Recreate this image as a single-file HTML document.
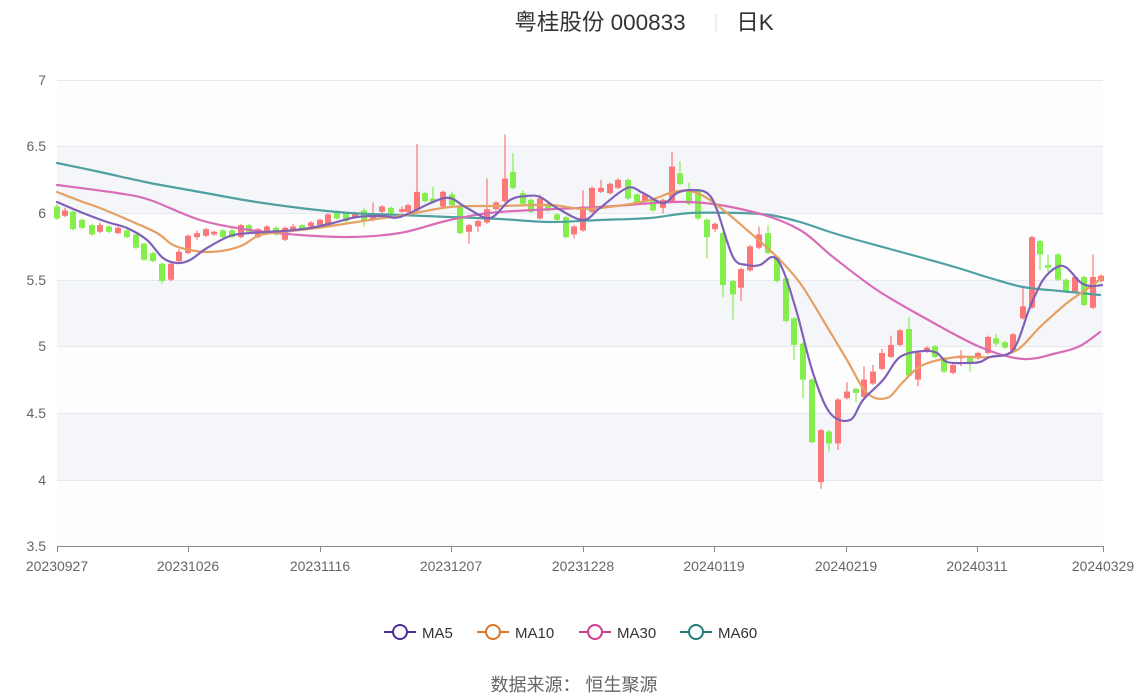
<!DOCTYPE html>
<html><head><meta charset="utf-8">
<style>
html,body{margin:0;padding:0;background:#fff;width:1148px;height:699px;overflow:hidden}
svg{display:block;font-family:"Liberation Sans","Noto Sans CJK SC",sans-serif}
</style></head>
<body>
<svg id="s" width="1148" height="699" xmlns="http://www.w3.org/2000/svg">
<rect x="57" y="80" width="1046" height="66.5" fill="#fdfdfe"/>
<rect x="57" y="146.5" width="1046" height="66.6" fill="#f5f6fa"/>
<rect x="57" y="213.1" width="1046" height="66.6" fill="#fdfdfe"/>
<rect x="57" y="279.7" width="1046" height="66.6" fill="#f5f6fa"/>
<rect x="57" y="346.3" width="1046" height="66.6" fill="#fdfdfe"/>
<rect x="57" y="412.9" width="1046" height="66.6" fill="#f5f6fa"/>
<rect x="57" y="479.5" width="1046" height="66.5" fill="#fdfdfe"/>
<g stroke="#e6e8f0" stroke-width="1">
<line x1="57" x2="1103" y1="80.5" y2="80.5"/><line x1="57" x2="1103" y1="146.5" y2="146.5"/>
<line x1="57" x2="1103" y1="213.5" y2="213.5"/><line x1="57" x2="1103" y1="280.5" y2="280.5"/>
<line x1="57" x2="1103" y1="346.5" y2="346.5"/><line x1="57" x2="1103" y1="413.5" y2="413.5"/>
<line x1="57" x2="1103" y1="480.5" y2="480.5"/>
</g>
<g fill="#666" font-size="14" text-anchor="end">
<text x="46" y="85">7</text><text x="46" y="151">6.5</text><text x="46" y="218">6</text>
<text x="46" y="285">5.5</text><text x="46" y="351">5</text><text x="46" y="418">4.5</text>
<text x="46" y="485">4</text><text x="46" y="551">3.5</text>
</g>
<line x1="57" x2="1103" y1="546.5" y2="546.5" stroke="#888"/>
<g id="ticks" stroke="#888"></g>
<g fill="#666" font-size="14" text-anchor="middle" id="xl"></g>
<g id="candles"></g>
<g id="ma" fill="none" stroke-width="2.2" stroke-linejoin="round" stroke-linecap="round"></g>
<text x="600" y="30" font-size="22.5" fill="#333" text-anchor="middle">粤桂股份 000833</text>
<line x1="716" x2="716" y1="14" y2="32" stroke="#ddd"/>
<text x="755" y="30" font-size="22.5" fill="#333" text-anchor="middle">日K</text>
<g font-size="15" fill="#333">
<line x1="384" x2="416" y1="632" y2="632" stroke="#4b2e99" stroke-width="2"/><circle cx="400" cy="632" r="7" fill="#fff" stroke="#4b2e99" stroke-width="2"/><text x="422" y="638">MA5</text>
<line x1="477" x2="509" y1="632" y2="632" stroke="#d9772a" stroke-width="2"/><circle cx="493" cy="632" r="7" fill="#fff" stroke="#d9772a" stroke-width="2"/><text x="515" y="638">MA10</text>
<line x1="579" x2="611" y1="632" y2="632" stroke="#cc3d93" stroke-width="2"/><circle cx="595" cy="632" r="7" fill="#fff" stroke="#cc3d93" stroke-width="2"/><text x="617" y="638">MA30</text>
<line x1="680" x2="712" y1="632" y2="632" stroke="#217d7d" stroke-width="2"/><circle cx="696" cy="632" r="7" fill="#fff" stroke="#217d7d" stroke-width="2"/><text x="718" y="638">MA60</text>
</g>
<text x="574" y="691" font-size="18" fill="#666" text-anchor="middle">数据来源：  恒生聚源</text>
</svg>
<script>
var NS="http://www.w3.org/2000/svg";
function Y(p){return 80+(7-p)*133.14;}
function el(t,a,par){var e=document.createElementNS(NS,t);for(var k in a)e.setAttribute(k,a[k]);document.getElementById(par).appendChild(e);return e;}
var lx=[57,188,320,451,583,714,846,977,1103],lt=["20230927","20231026","20231116","20231207","20231228","20240119","20240219","20240311","20240329"];
lx.forEach(function(x,i){el("line",{x1:x+.5,x2:x+.5,y1:546,y2:552},"ticks");var t=el("text",{x:x,y:571},"xl");t.textContent=lt[i];});
var C=[
[57,6.05,5.96,6.07,5.95,0],[65,6.02,5.98,6.04,5.97,1],[73,6.01,5.88,6.02,5.87,0],[82,5.95,5.89,5.96,5.88,0],[92,5.91,5.84,5.92,5.83,0],
[100,5.91,5.86,5.93,5.85,1],[109,5.90,5.86,5.91,5.85,0],[118,5.89,5.85,5.90,5.84,1],[127,5.87,5.82,5.88,5.81,0],[136,5.84,5.74,5.85,5.73,0],
[144,5.77,5.65,5.78,5.64,0],[153,5.70,5.64,5.71,5.63,0],[162,5.62,5.49,5.63,5.47,0],[171,5.62,5.50,5.63,5.49,1],[179,5.71,5.64,5.73,5.63,1],
[188,5.83,5.70,5.84,5.69,1],[197,5.85,5.82,5.87,5.80,1],[206,5.88,5.83,5.89,5.82,1],[214,5.86,5.84,5.87,5.83,1],[223,5.87,5.82,5.88,5.81,0],
[232,5.87,5.82,5.89,5.81,0],[241,5.91,5.82,5.92,5.81,1],[249,5.91,5.86,5.92,5.85,0],[258,5.88,5.82,5.89,5.81,1],[267,5.90,5.86,5.91,5.85,1],
[276,5.89,5.84,5.90,5.83,0],[285,5.89,5.80,5.90,5.79,1],[293,5.90,5.88,5.92,5.87,1],[302,5.91,5.88,5.92,5.87,0],[311,5.93,5.90,5.94,5.89,1],
[320,5.95,5.91,5.96,5.90,1],[328,5.99,5.91,6.00,5.90,1],[337,6.01,5.96,6.02,5.95,0],[346,6.00,5.94,6.01,5.93,0],[355,6.00,5.97,6.01,5.96,1],
[364,6.02,5.94,6.04,5.90,0],[373,6.00,5.95,6.08,5.94,1],[382,6.05,6.01,6.06,6.00,1],[391,6.04,6.00,6.05,5.98,0],[402,6.03,6.01,6.05,6.00,1],
[408,6.06,6.01,6.07,6.00,1],[417,6.16,6.02,6.52,6.01,1],[425,6.15,6.09,6.16,6.08,0],[433,6.11,6.08,6.20,6.07,0],[443,6.16,6.05,6.17,6.04,1],
[452,6.14,6.06,6.16,6.05,0],[460,6.05,5.85,6.06,5.84,0],[469,5.91,5.86,5.92,5.77,1],[478,5.94,5.90,5.95,5.86,1],[487,6.03,5.93,6.26,5.92,1],
[496,6.08,6.03,6.09,6.02,1],[505,6.26,6.09,6.59,6.08,1],[513,6.31,6.19,6.45,6.18,0],[523,6.15,6.07,6.17,6.06,0],[531,6.10,6.01,6.11,6.00,0],
[540,6.11,5.96,6.14,5.95,1],[548,6.07,6.02,6.08,6.01,0],[557,5.99,5.95,6.00,5.94,0],[566,5.97,5.82,5.98,5.81,0],[574,5.90,5.84,5.91,5.81,1],
[583,6.05,5.87,6.17,5.86,1],[592,6.19,6.01,6.20,6.00,1],[601,6.19,6.16,6.25,6.15,1],[610,6.22,6.15,6.23,6.14,1],[618,6.25,6.19,6.26,6.18,1],
[628,6.25,6.11,6.26,6.10,0],[637,6.14,6.07,6.15,6.06,0],[645,6.14,6.09,6.15,6.08,1],[653,6.10,6.02,6.11,6.01,0],[663,6.10,6.04,6.11,6.00,1],
[672,6.35,6.09,6.46,6.08,1],[680,6.30,6.22,6.39,6.21,0],[689,6.17,6.07,6.23,6.06,0],[698,6.17,5.96,6.18,5.95,0],[707,5.95,5.82,5.96,5.66,0],
[715,5.92,5.88,5.93,5.86,1],[723,5.85,5.46,5.86,5.37,0],[733,5.49,5.39,5.50,5.20,0],[741,5.58,5.44,5.59,5.34,1],[750,5.75,5.57,5.76,5.56,1],
[759,5.84,5.74,5.90,5.73,1],[768,5.85,5.70,5.91,5.69,0],[777,5.67,5.49,5.68,5.48,0],[786,5.51,5.19,5.52,5.18,0],[794,5.21,5.01,5.22,4.90,0],
[803,5.02,4.75,5.03,4.61,0],[812,4.75,4.28,4.76,4.27,0],[821,4.37,3.98,4.38,3.93,1],[829,4.36,4.27,4.37,4.21,0],[838,4.60,4.27,4.61,4.22,1],
[847,4.66,4.61,4.73,4.60,1],[856,4.68,4.65,4.69,4.58,0],[864,4.75,4.62,4.85,4.61,1],[873,4.81,4.72,4.86,4.71,1],[882,4.95,4.83,4.98,4.82,1],
[891,5.01,4.92,5.08,4.91,1],[900,5.12,5.01,5.13,5.00,1],[909,5.13,4.78,5.22,4.77,0],[918,4.95,4.75,4.96,4.70,1],[927,4.99,4.96,5.00,4.95,1],
[935,5.00,4.92,5.01,4.91,0],[944,4.91,4.81,4.92,4.80,0],[953,4.86,4.80,4.87,4.79,1],[961,4.93,4.91,4.97,4.85,1],[970,4.92,4.88,4.93,4.81,0],
[978,4.95,4.91,4.96,4.90,1],[988,5.07,4.95,5.08,4.94,1],[996,5.06,5.02,5.09,5.00,0],[1005,5.03,4.99,5.04,4.98,0],[1013,5.09,4.97,5.10,4.96,1],
[1023,5.30,5.21,5.44,5.20,1],[1032,5.82,5.29,5.83,5.28,1],[1040,5.79,5.69,5.80,5.57,0],[1048,5.61,5.59,5.69,5.56,0],[1058,5.69,5.50,5.70,5.49,0],
[1066,5.50,5.41,5.51,5.40,0],[1075,5.52,5.41,5.53,5.40,1],[1084,5.52,5.31,5.53,5.30,0],[1093,5.52,5.29,5.69,5.28,1],[1101,5.53,5.49,5.54,5.48,1]];
C.forEach(function(c){var col=c[5]?"#fc7878":"#84ee4c";
el("line",{x1:c[0],x2:c[0],y1:Y(c[3]),y2:Y(c[4]),stroke:col,"stroke-width":1.2},"candles");
var t=Y(c[1]),b=Y(c[2]);if(b-t<2){t-=1;b+=1;}
el("rect",{x:c[0]-3,y:t,width:6,height:b-t,fill:col},"candles");});
var M={
"#4fa0a0":[[57,163],[100,172],[150,183],[200,192],[250,201],[300,208],[350,213],[400,215],[450,217],[500,219],[550,222],[600,220],[650,218],[690,213],[740,213],[770,215],[800,222],[830,232],[857,240],[890,249],[923,258],[955,267],[990,278],[1023,287],[1060,291],[1100,295]],
"#d96cb6":[[57,185],[117,193],[150,200],[200,220],[250,230],[300,235],[350,237],[400,233],[450,220],[500,212],[600,207],[690,202],[757,213],[800,230],[833,257],[877,290],[923,317],[980,347],[1023,359],[1057,353],[1080,346],[1100,332]],
"#e5a064":[[57,192],[83,202],[100,208],[133,222],[157,233],[173,245],[190,250],[207,252],[227,250],[243,245],[260,235],[283,232],[317,228],[350,223],[383,218],[400,216],[450,207],[500,206],[550,205],[583,209],[617,206],[650,200],[673,192],[690,191],[707,198],[727,213],[747,230],[777,257],[800,283],[823,320],[847,360],[867,393],[887,398],[903,382],[923,365],[957,357],[990,357],[1017,350],[1040,327],[1067,303],[1090,287],[1102,278]],
"#7f62b8":[[57,202],[83,213],[107,222],[127,228],[147,240],[163,258],[177,263],[190,260],[207,248],[230,236],[250,233],[283,231],[310,228],[333,223],[357,217],[383,216],[400,217],[433,202],[450,198],[467,208],[490,218],[510,200],[527,196],[540,197],[557,208],[583,220],[600,208],[627,188],[643,193],[663,203],[677,193],[690,190],[707,193],[717,210],[733,257],[747,265],[760,265],[773,257],[783,270],[797,313],[813,373],[830,413],[850,420],[863,400],[883,380],[900,357],[923,351],[937,353],[947,362],[967,363],[980,362],[990,357],[1013,350],[1030,307],[1043,280],[1057,267],[1067,268],[1080,282],[1090,286],[1102,285]]};
function smooth(P){var d="M"+P[0][0]+","+P[0][1];
for(var i=0;i<P.length-1;i++){var p0=P[i-1]||P[i],p1=P[i],p2=P[i+1],p3=P[i+2]||p2;
var c1x=p1[0]+(p2[0]-p0[0])/6,c1y=p1[1]+(p2[1]-p0[1])/6,c2x=p2[0]-(p3[0]-p1[0])/6,c2y=p2[1]-(p3[1]-p1[1])/6;
d+=" C"+c1x.toFixed(1)+","+c1y.toFixed(1)+" "+c2x.toFixed(1)+","+c2y.toFixed(1)+" "+p2[0]+","+p2[1];}
return d;}
for(var k in M){el("path",{d:smooth(M[k]),stroke:k},"ma");}
</script>
</body></html>
